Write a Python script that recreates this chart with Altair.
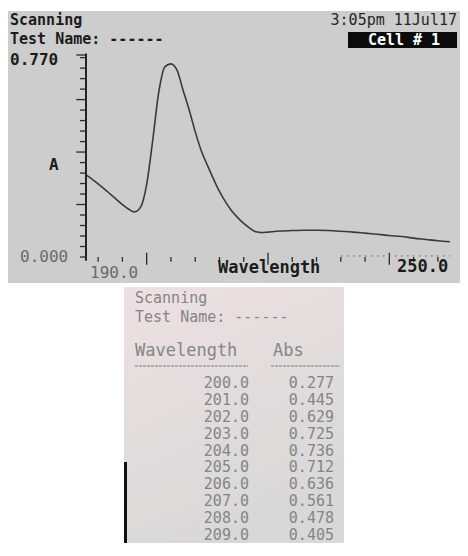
import altair as alt
import numpy as np
import pandas as pd

# ---------------- data ----------------
# spectrum trace on the instrument screen (wavelength nm, absorbance)
curve_wl = [190, 191, 192, 193, 194, 195, 196, 197, 198, 199,
            200, 201, 202, 203, 204, 205, 206, 207, 208, 209,
            210, 211, 212, 213, 214, 215, 216, 217, 218, 219,
            220, 222, 224, 226, 228, 230, 232, 234, 236, 238,
            240, 242, 244, 246, 248, 250]
curve_abs = [0.313, 0.297, 0.279, 0.260, 0.240, 0.220, 0.200, 0.183, 0.172, 0.190,
             0.277, 0.445, 0.629, 0.725, 0.736, 0.712, 0.636, 0.561, 0.478, 0.405,
             0.350, 0.298, 0.250, 0.210, 0.176, 0.150, 0.128, 0.110, 0.096, 0.093,
             0.095, 0.099, 0.101, 0.102, 0.102, 0.101, 0.098, 0.095, 0.091, 0.087,
             0.082, 0.078, 0.072, 0.067, 0.062, 0.058]

# printed table
table_wl = [200.0, 201.0, 202.0, 203.0, 204.0, 205.0, 206.0, 207.0, 208.0, 209.0]
table_abs = [0.277, 0.445, 0.629, 0.725, 0.736, 0.712, 0.636, 0.561, 0.478, 0.405]

# texts
screen_title = "Scanning"
test_name = "Test Name: ------"
timestamp = "3:05pm 11Jul17"
cell_label = "Cell # 1"
y_max_label = "0.770"
y_min_label = "0.000"
y_title = "A"
x_min_label = "190.0"
x_max_label = "250.0"
x_title = "Wavelength"
col_wl = "Wavelength"
col_abs = "Abs"

# ---------------- helpers ----------------
MONO = "DejaVu Sans Mono"


def label(text, x, y, size=16, weight="bold", color="#1c1c1c", align="left"):
    return alt.Chart(pd.DataFrame({"t": [text]})).mark_text(
        font=MONO, fontSize=size, fontWeight=weight, color=color,
        align=align, baseline="alphabetic"
    ).encode(text="t:N", x=alt.value(x), y=alt.value(y))


# ---------------- top panel: instrument screen ----------------
W_TOP, H_TOP = 452, 272
xs = alt.Scale(domain=[190, 250], range=[78, 442], nice=False, zero=False)
ys = alt.Scale(domain=[0, 0.77], range=[246, 44], nice=False, zero=False)

curve_df = pd.DataFrame({"wl": curve_wl, "abs": curve_abs})
line = alt.Chart(curve_df).mark_line(
    color="#3a3a3a", strokeWidth=1.6, interpolate="monotone"
).encode(
    x=alt.X("wl:Q", scale=xs, axis=None),
    y=alt.Y("abs:Q", scale=ys, axis=None),
)

# vertical axis line
yaxis_df = pd.DataFrame({"x": [190.0], "y0": [-0.014], "y1": [0.776]})
yaxis = alt.Chart(yaxis_df).mark_rule(color="#222222", strokeWidth=2).encode(
    x=alt.X("x:Q", scale=xs, axis=None),
    y=alt.Y("y0:Q", scale=ys, axis=None),
    y2="y1:Q",
)

# y ticks (left of the axis)
ytick_vals = [round(v, 2) for v in np.arange(0, 0.77, 0.04)] + [0.77]
ytick_df = pd.DataFrame({
    "v": ytick_vals,
    "x0": [188.4 if round(v, 2) in (0.2, 0.4, 0.6, 0.77) else 189.0 for v in ytick_vals],
    "x1": [190.0] * len(ytick_vals),
})
yticks = alt.Chart(ytick_df).mark_rule(color="#2a2a2a", strokeWidth=1.3).encode(
    x=alt.X("x0:Q", scale=xs, axis=None),
    x2="x1:Q",
    y=alt.Y("v:Q", scale=ys, axis=None),
)

# x ticks (no solid baseline on the screen)
xtick_vals = list(range(192, 250, 4))
xtick_df = pd.DataFrame({
    "v": xtick_vals,
    "y0": [0.016 if v in (200, 220, 240) else 0.0 for v in xtick_vals],
    "y1": [-0.03 if v in (200, 220, 240) else -0.018 for v in xtick_vals],
})
xticks = alt.Chart(xtick_df).mark_rule(color="#2a2a2a", strokeWidth=1.3).encode(
    x=alt.X("v:Q", scale=xs, axis=None),
    y=alt.Y("y0:Q", scale=ys, axis=None),
    y2="y1:Q",
)

# faint dotted baseline fragment at the right end
base_df = pd.DataFrame({"x0": [232.0], "x1": [250.0], "y": [0.004]})
baseline_frag = alt.Chart(base_df).mark_rule(
    color="#7a7a7a", strokeWidth=1, strokeDash=[2, 4]
).encode(
    x=alt.X("x0:Q", scale=xs, axis=None),
    x2="x1:Q",
    y=alt.Y("y:Q", scale=ys, axis=None),
)

cell_box = alt.Chart(pd.DataFrame({"a": [0]})).mark_rect(color="#0b0b0b").encode(
    x=alt.value(340), x2=alt.value(449), y=alt.value(21), y2=alt.value(37)
)

top = alt.layer(
    line, yaxis, yticks, xticks, baseline_frag, cell_box,
    label(screen_title, 2, 14, size=15),
    label(test_name, 2, 33, size=15),
    label(timestamp, 449, 14, size=15, weight="normal", color="#262626", align="right"),
    label(cell_label, 396, 34, size=15, color="#ffffff", align="center"),
    label(y_max_label, 2, 54),
    label(y_min_label, 12, 251, weight="normal", color="#6a6a6a"),
    label(y_title, 41, 159),
    label(x_min_label, 82, 267, weight="normal", color="#6a6a6a"),
    label(x_title, 210, 262, size=17),
    label(x_max_label, 389, 261, size=17),
).properties(
    width=W_TOP, height=H_TOP,
    view=alt.ViewBackground(fill="#cdcdcd", strokeWidth=0),
)

# ---------------- bottom panel: printout ----------------
W_BOT, H_BOT = 220, 256
PRINT = "#858585"

paper = alt.Chart(pd.DataFrame({"a": [0]})).mark_rect(
    color=alt.LinearGradient(
        gradient="linear",
        stops=[alt.GradientStop(color="#eee0e3", offset=0),
               alt.GradientStop(color="#e2dcdd", offset=0.5),
               alt.GradientStop(color="#d9d8d8", offset=1)],
        x1=0, x2=0.4, y1=0, y2=1,
    )
).encode(x=alt.value(0), x2=alt.value(W_BOT), y=alt.value(0), y2=alt.value(H_BOT))

edge = alt.Chart(pd.DataFrame({"a": [0]})).mark_rect(color="#111111").encode(
    x=alt.value(0), x2=alt.value(3), y=alt.value(175), y2=alt.value(H_BOT)
)

dash_rules = alt.layer(
    alt.Chart(pd.DataFrame({"a": [0]})).mark_rule(
        color="#9a9a9a", strokeWidth=1.5, strokeDash=[3, 1]
    ).encode(x=alt.value(11), x2=alt.value(124), y=alt.value(79)),
    alt.Chart(pd.DataFrame({"a": [0]})).mark_rule(
        color="#9a9a9a", strokeWidth=1.5, strokeDash=[3, 1]
    ).encode(x=alt.value(147), x2=alt.value(216), y=alt.value(79)),
)

table_df = pd.DataFrame({
    "row": list(range(len(table_wl))),
    "wl": [f"{v:.1f}" for v in table_wl],
    "abs": [f"{v:.3f}" for v in table_abs],
})
bys = alt.Scale(domain=[0, 9], range=[101, 253], nice=False, zero=False)

wl_col = alt.Chart(table_df).mark_text(
    font=MONO, fontSize=15, color=PRINT, align="right", baseline="alphabetic"
).encode(x=alt.value(125), y=alt.Y("row:Q", scale=bys, axis=None), text="wl:N")

abs_col = alt.Chart(table_df).mark_text(
    font=MONO, fontSize=15, color=PRINT, align="right", baseline="alphabetic"
).encode(x=alt.value(210), y=alt.Y("row:Q", scale=bys, axis=None), text="abs:N")

bottom = alt.layer(
    paper, edge, dash_rules,
    label(screen_title, 11, 16, size=15, weight="normal", color=PRINT),
    label(test_name, 11, 35, size=15, weight="normal", color=PRINT),
    label(col_wl, 11, 69, size=17, weight="normal", color=PRINT),
    label(col_abs, 149, 69, size=17, weight="normal", color=PRINT),
    wl_col, abs_col,
).properties(
    width=W_BOT, height=H_BOT,
    view=alt.ViewBackground(fill="#ffffff", strokeWidth=0),
)

chart = alt.vconcat(top, bottom, spacing=4, center=True).properties(
    padding={"left": 0, "top": 3, "right": 0, "bottom": 0},
    background="#ffffff",
).configure_view(strokeWidth=0)

chart.save("out.html", embed_options={"renderer": "svg", "actions": False})
